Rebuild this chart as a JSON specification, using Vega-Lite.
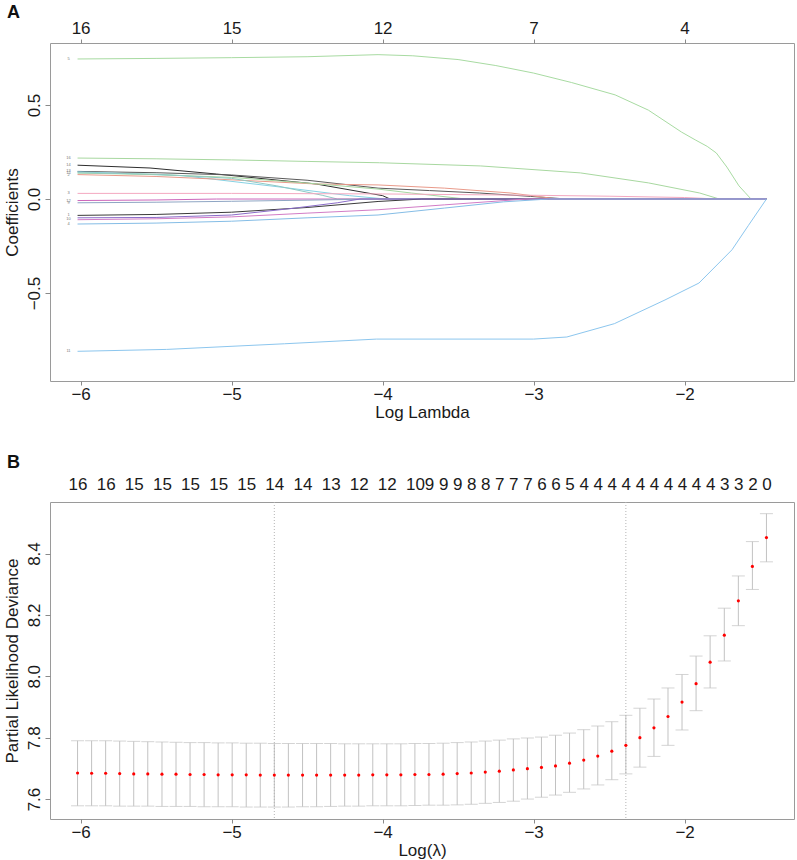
{
  "$schema": "https://vega.github.io/schema/vega-lite/v6.json",
  "background": "white",
  "padding": {"left": 2, "top": 3, "right": 0, "bottom": 0},
  "spacing": 32,
  "config": {
    "font": "Liberation Sans",
    "view": {"stroke": "#9a9a9a", "strokeWidth": 1},
    "axis": {"grid": false, "domain": false, "tickColor": "#8a8a8a", "labelColor": "#1a1a1a", "titleColor": "#1a1a1a", "labelFont": "Liberation Sans", "titleFont": "Liberation Sans", "labelFontSize": 17, "titleFontSize": 17, "titleFontWeight": "normal"},
    "axisY": {"labelAngle": -90, "labelAlign": "center", "labelBaseline": "bottom", "tickSize": 5, "labelPadding": 2, "titlePadding": 4},
    "title": {"font": "Liberation Sans", "fontSize": 18, "fontWeight": "bold", "anchor": "start", "frame": "bounds", "offset": -3, "dx": 4, "color": "#111"}
  },
  "datasets": {
    "paths": [
      {"v":"g1","x":-6.02,"c":0.745},{"v":"g1","x":-5.5,"c":0.748},{"v":"g1","x":-5.0,"c":0.752},{"v":"g1","x":-4.5,"c":0.757},{"v":"g1","x":-4.03,"c":0.768},{"v":"g1","x":-3.8,"c":0.762},{"v":"g1","x":-3.5,"c":0.742},{"v":"g1","x":-3.25,"c":0.71},{"v":"g1","x":-3.0,"c":0.67},{"v":"g1","x":-2.75,"c":0.62},{"v":"g1","x":-2.46,"c":0.554},{"v":"g1","x":-2.24,"c":0.473},{"v":"g1","x":-2.02,"c":0.356},{"v":"g1","x":-1.93,"c":0.315},{"v":"g1","x":-1.85,"c":0.28},{"v":"g1","x":-1.79,"c":0.245},{"v":"g1","x":-1.72,"c":0.17},{"v":"g1","x":-1.64,"c":0.07},{"v":"g1","x":-1.6,"c":0.035},{"v":"g1","x":-1.56,"c":0.0},{"v":"g1","x":-1.458,"c":0.0},
      {"v":"g2","x":-6.02,"c":0.218},{"v":"g2","x":-5.5,"c":0.214},{"v":"g2","x":-5.0,"c":0.208},{"v":"g2","x":-4.5,"c":0.2},{"v":"g2","x":-4.02,"c":0.193},{"v":"g2","x":-3.35,"c":0.176},{"v":"g2","x":-2.69,"c":0.139},{"v":"g2","x":-2.24,"c":0.086},{"v":"g2","x":-1.9,"c":0.032},{"v":"g2","x":-1.77,"c":0.0},{"v":"g2","x":-1.458,"c":0.0},
      {"v":"black1","x":-6.02,"c":0.18},{"v":"black1","x":-5.54,"c":0.165},{"v":"black1","x":-5.1,"c":0.133},{"v":"black1","x":-4.44,"c":0.08},{"v":"black1","x":-4.0,"c":0.018},{"v":"black1","x":-3.95,"c":0.0},{"v":"black1","x":-1.458,"c":0.0},
      {"v":"dgray","x":-6.02,"c":0.147},{"v":"dgray","x":-5.5,"c":0.14},{"v":"dgray","x":-5.0,"c":0.128},{"v":"dgray","x":-4.5,"c":0.1},{"v":"dgray","x":-4.03,"c":0.058},{"v":"dgray","x":-3.69,"c":0.045},{"v":"dgray","x":-3.36,"c":0.032},{"v":"dgray","x":-3.02,"c":0.014},{"v":"dgray","x":-2.78,"c":0.0},{"v":"dgray","x":-1.458,"c":0.0},
      {"v":"cyan","x":-6.02,"c":0.145},{"v":"cyan","x":-5.32,"c":0.124},{"v":"cyan","x":-4.66,"c":0.062},{"v":"cyan","x":-4.22,"c":0.018},{"v":"cyan","x":-3.98,"c":0.0},{"v":"cyan","x":-1.458,"c":0.0},
      {"v":"red","x":-6.02,"c":0.13},{"v":"red","x":-5.5,"c":0.12},{"v":"red","x":-5.1,"c":0.106},{"v":"red","x":-4.44,"c":0.08},{"v":"red","x":-4.03,"c":0.075},{"v":"red","x":-3.59,"c":0.058},{"v":"red","x":-3.15,"c":0.032},{"v":"red","x":-2.84,"c":0.0},{"v":"red","x":-1.458,"c":0.0},
      {"v":"green3","x":-6.02,"c":0.138},{"v":"green3","x":-5.5,"c":0.13},{"v":"green3","x":-5.0,"c":0.115},{"v":"green3","x":-4.5,"c":0.085},{"v":"green3","x":-4.03,"c":0.053},{"v":"green3","x":-3.81,"c":0.032},{"v":"green3","x":-3.45,"c":0.0},{"v":"green3","x":-1.458,"c":0.0},
      {"v":"teal2","x":-6.02,"c":0.14},{"v":"teal2","x":-5.5,"c":0.132},{"v":"teal2","x":-5.0,"c":0.11},{"v":"teal2","x":-4.7,"c":0.07},{"v":"teal2","x":-4.4,"c":0.02},{"v":"teal2","x":-4.3,"c":0.0},{"v":"teal2","x":-1.458,"c":0.0},
      {"v":"pink","x":-6.02,"c":0.03},{"v":"pink","x":-5.0,"c":0.03},{"v":"pink","x":-4.0,"c":0.027},{"v":"pink","x":-3.0,"c":0.02},{"v":"pink","x":-2.5,"c":0.015},{"v":"pink","x":-2.0,"c":0.008},{"v":"pink","x":-1.78,"c":0.0},{"v":"pink","x":-1.458,"c":0.0},
      {"v":"magsmall","x":-6.02,"c":-0.008},{"v":"magsmall","x":-5.5,"c":-0.005},{"v":"magsmall","x":-5.1,"c":0.0},{"v":"magsmall","x":-1.458,"c":0.0},
      {"v":"greyblue","x":-6.02,"c":-0.02},{"v":"greyblue","x":-5.5,"c":-0.017},{"v":"greyblue","x":-5.0,"c":-0.012},{"v":"greyblue","x":-4.5,"c":-0.006},{"v":"greyblue","x":-4.05,"c":0.0},{"v":"greyblue","x":-1.458,"c":0.0},
      {"v":"dark","x":-6.02,"c":-0.087},{"v":"dark","x":-5.5,"c":-0.082},{"v":"dark","x":-5.0,"c":-0.07},{"v":"dark","x":-4.5,"c":-0.045},{"v":"dark","x":-4.03,"c":-0.013},{"v":"dark","x":-3.74,"c":0.0},{"v":"dark","x":-1.458,"c":0.0},
      {"v":"purple","x":-6.02,"c":-0.1},{"v":"purple","x":-5.5,"c":-0.098},{"v":"purple","x":-5.0,"c":-0.085},{"v":"purple","x":-4.6,"c":-0.05},{"v":"purple","x":-4.3,"c":-0.02},{"v":"purple","x":-4.15,"c":0.0},{"v":"purple","x":-1.458,"c":0.0},
      {"v":"mag2","x":-6.02,"c":-0.11},{"v":"mag2","x":-5.5,"c":-0.105},{"v":"mag2","x":-5.0,"c":-0.095},{"v":"mag2","x":-4.5,"c":-0.075},{"v":"mag2","x":-4.03,"c":-0.057},{"v":"mag2","x":-3.59,"c":-0.031},{"v":"mag2","x":-3.05,"c":0.0},{"v":"mag2","x":-1.458,"c":0.0},
      {"v":"lightblue","x":-6.02,"c":-0.133},{"v":"lightblue","x":-5.5,"c":-0.128},{"v":"lightblue","x":-5.0,"c":-0.118},{"v":"lightblue","x":-4.5,"c":-0.1},{"v":"lightblue","x":-4.03,"c":-0.085},{"v":"lightblue","x":-3.59,"c":-0.048},{"v":"lightblue","x":-3.2,"c":-0.015},{"v":"lightblue","x":-2.9,"c":0.0},{"v":"lightblue","x":-1.458,"c":0.0},
      {"v":"bluebot","x":-6.02,"c":-0.81},{"v":"bluebot","x":-5.43,"c":-0.8},{"v":"bluebot","x":-4.65,"c":-0.77},{"v":"bluebot","x":-4.04,"c":-0.745},{"v":"bluebot","x":-3.0,"c":-0.745},{"v":"bluebot","x":-2.78,"c":-0.734},{"v":"bluebot","x":-2.465,"c":-0.663},{"v":"bluebot","x":-2.13,"c":-0.537},{"v":"bluebot","x":-1.905,"c":-0.447},{"v":"bluebot","x":-1.686,"c":-0.27},{"v":"bluebot","x":-1.577,"c":-0.14},{"v":"bluebot","x":-1.458,"c":0.0}
    ],
    "labs": [
      {"x":-6.08,"c":0.745,"t":"5"},{"x":-6.08,"c":0.218,"t":"16"},{"x":-6.08,"c":0.18,"t":"14"},{"x":-6.08,"c":0.147,"t":"13"},{"x":-6.08,"c":0.14,"t":"15"},{"x":-6.08,"c":0.13,"t":"2"},{"x":-6.08,"c":0.03,"t":"3"},{"x":-6.08,"c":-0.008,"t":"12"},{"x":-6.08,"c":-0.02,"t":"9"},{"x":-6.08,"c":-0.087,"t":"1"},{"x":-6.08,"c":-0.105,"t":"10"},{"x":-6.08,"c":-0.133,"t":"4"},{"x":-6.08,"c":-0.81,"t":"11"}
    ],
    "cv": [
      {"x":-6.020,"m":7.685,"lo":7.578,"hi":7.790},{"x":-5.927,"m":7.684,"lo":7.578,"hi":7.790},{"x":-5.834,"m":7.684,"lo":7.578,"hi":7.790},{"x":-5.741,"m":7.683,"lo":7.577,"hi":7.789},{"x":-5.648,"m":7.682,"lo":7.577,"hi":7.788},{"x":-5.555,"m":7.682,"lo":7.577,"hi":7.787},{"x":-5.461,"m":7.681,"lo":7.576,"hi":7.786},{"x":-5.368,"m":7.681,"lo":7.576,"hi":7.785},{"x":-5.275,"m":7.680,"lo":7.576,"hi":7.784},{"x":-5.182,"m":7.680,"lo":7.575,"hi":7.784},
      {"x":-5.089,"m":7.679,"lo":7.575,"hi":7.783},{"x":-4.996,"m":7.679,"lo":7.575,"hi":7.783},{"x":-4.903,"m":7.679,"lo":7.574,"hi":7.782},{"x":-4.810,"m":7.678,"lo":7.574,"hi":7.782},{"x":-4.717,"m":7.678,"lo":7.574,"hi":7.781},{"x":-4.624,"m":7.678,"lo":7.574,"hi":7.781},{"x":-4.530,"m":7.678,"lo":7.575,"hi":7.781},{"x":-4.437,"m":7.678,"lo":7.575,"hi":7.781},{"x":-4.344,"m":7.678,"lo":7.576,"hi":7.781},{"x":-4.251,"m":7.678,"lo":7.577,"hi":7.780},
      {"x":-4.158,"m":7.678,"lo":7.577,"hi":7.780},{"x":-4.065,"m":7.679,"lo":7.578,"hi":7.780},{"x":-3.972,"m":7.679,"lo":7.578,"hi":7.780},{"x":-3.879,"m":7.679,"lo":7.578,"hi":7.780},{"x":-3.786,"m":7.680,"lo":7.579,"hi":7.781},{"x":-3.693,"m":7.680,"lo":7.580,"hi":7.781},{"x":-3.599,"m":7.681,"lo":7.580,"hi":7.782},{"x":-3.506,"m":7.683,"lo":7.581,"hi":7.784},{"x":-3.413,"m":7.685,"lo":7.583,"hi":7.786},{"x":-3.320,"m":7.688,"lo":7.586,"hi":7.789},
      {"x":-3.227,"m":7.691,"lo":7.589,"hi":7.792},{"x":-3.134,"m":7.695,"lo":7.593,"hi":7.796},{"x":-3.041,"m":7.699,"lo":7.600,"hi":7.799},{"x":-2.948,"m":7.703,"lo":7.606,"hi":7.802},{"x":-2.855,"m":7.708,"lo":7.613,"hi":7.808},{"x":-2.762,"m":7.717,"lo":7.622,"hi":7.815},{"x":-2.668,"m":7.727,"lo":7.633,"hi":7.826},{"x":-2.575,"m":7.740,"lo":7.646,"hi":7.838},{"x":-2.482,"m":7.756,"lo":7.663,"hi":7.852},{"x":-2.389,"m":7.775,"lo":7.682,"hi":7.873},
      {"x":-2.296,"m":7.800,"lo":7.704,"hi":7.896},{"x":-2.203,"m":7.832,"lo":7.739,"hi":7.926},{"x":-2.110,"m":7.869,"lo":7.775,"hi":7.962},{"x":-2.017,"m":7.916,"lo":7.825,"hi":8.006},{"x":-1.924,"m":7.976,"lo":7.888,"hi":8.066},{"x":-1.831,"m":8.046,"lo":7.962,"hi":8.132},{"x":-1.737,"m":8.134,"lo":8.050,"hi":8.222},{"x":-1.644,"m":8.246,"lo":8.165,"hi":8.327},{"x":-1.551,"m":8.358,"lo":8.283,"hi":8.439},{"x":-1.458,"m":8.452,"lo":8.373,"hi":8.530}
    ],
    "vlines": [{"x": -4.717}, {"x": -2.389}]
  },
  "vconcat": [
    {
      "width": 744,
      "height": 338,
      "title": {"text": "A"},
      "layer": [
        {
          "data": {"name": "paths"},
          "mark": {"type": "line", "strokeWidth": 1},
          "encoding": {
            "x": {"field": "x", "type": "quantitative", "scale": {"domain": [-6.2025, -1.2755], "nice": false, "zero": false}, "axis": {"orient": "bottom", "values": [-6, -5, -4, -3, -2], "format": "d", "title": "Log Lambda", "tickSize": 4, "labelPadding": 1, "titlePadding": 2}},
            "y": {"field": "c", "type": "quantitative", "scale": {"domain": [-0.968, 0.83], "nice": false, "zero": false}, "axis": {"values": [-0.5, 0, 0.5], "format": ".1f", "title": "Coefficients"}},
            "color": {"field": "v", "type": "nominal", "legend": null, "scale": {
              "domain": ["g1","g2","black1","dgray","cyan","red","green3","teal2","pink","magsmall","greyblue","dark","purple","mag2","lightblue","bluebot"],
              "range": ["#a8dba2","#a8d8a0","#2e2e2e","#5a5a5a","#86d2e4","#e99a8a","#a6d6a0","#8fc9c4","#f4a8c0","#cc66bb","#8fa6c4","#3a3a3a","#8a6cc8","#d27cc6","#85bde6","#8cc6ee"]}}
          }
        },
        {
          "data": {"name": "labs"},
          "mark": {"type": "text", "fontSize": 4, "color": "#777", "align": "center", "baseline": "middle"},
          "encoding": {
            "x": {"field": "x", "type": "quantitative", "scale": {"domain": [-6.2025, -1.2755], "nice": false, "zero": false}, "axis": {"orient": "top", "values": [-6, -5, -4, -3, -2], "labelExpr": "datum.value == -6 ? '16' : datum.value == -5 ? '15' : datum.value == -4 ? '12' : datum.value == -3 ? '7' : '4'", "title": null, "tickSize": 4, "labelPadding": 2}},
            "y": {"field": "c", "type": "quantitative", "scale": {"domain": [-0.968, 0.83], "nice": false, "zero": false}, "axis": {"values": [-0.5, 0, 0.5], "format": ".1f", "title": "Coefficients"}},
            "text": {"field": "t"}
          }
        }
      ],
      "resolve": {"axis": {"x": "independent"}}
    },
    {
      "width": 744,
      "height": 317,
      "title": {"text": "B", "offset": 3},
      "layer": [
        {
          "data": {"name": "cv"},
          "mark": {"type": "rule", "color": "#c2c2c2", "strokeWidth": 1},
          "encoding": {
            "x": {"field": "x", "type": "quantitative", "scale": {"domain": [-6.2025, -1.2755], "nice": false, "zero": false}, "axis": {"orient": "bottom", "values": [-6, -5, -4, -3, -2], "format": "d", "title": "Log(λ)", "tickSize": 4, "labelPadding": 1, "titlePadding": 2}},
            "y": {"field": "lo", "type": "quantitative", "scale": {"domain": [7.535, 8.568], "nice": false, "zero": false}, "axis": {"values": [7.6, 7.8, 8.0, 8.2, 8.4], "format": ".1f", "title": "Partial Likelihood Deviance"}},
            "y2": {"field": "hi"}
          }
        },
        {
          "data": {"name": "cv"},
          "mark": {"type": "tick", "orient": "horizontal", "size": 13, "thickness": 1, "color": "#c2c2c2"},
          "encoding": {
            "x": {"field": "x", "type": "quantitative", "axis": null},
            "y": {"field": "lo", "type": "quantitative", "axis": {"values": [7.6, 7.8, 8.0, 8.2, 8.4], "format": ".1f", "title": "Partial Likelihood Deviance"}}
          }
        },
        {
          "data": {"name": "cv"},
          "mark": {"type": "tick", "orient": "horizontal", "size": 13, "thickness": 1, "color": "#c2c2c2"},
          "encoding": {
            "x": {"field": "x", "type": "quantitative", "axis": null},
            "y": {"field": "hi", "type": "quantitative", "axis": {"values": [7.6, 7.8, 8.0, 8.2, 8.4], "format": ".1f", "title": "Partial Likelihood Deviance"}}
          }
        },
        {
          "data": {"name": "vlines"},
          "mark": {"type": "rule", "color": "#b5b5b5", "strokeWidth": 1, "strokeDash": [1, 2]},
          "encoding": {
            "x": {"field": "x", "type": "quantitative", "axis": null}
          }
        },
        {
          "data": {"name": "cv"},
          "mark": {"type": "point", "filled": true, "size": 10, "color": "#ff0000", "opacity": 1},
          "encoding": {
            "x": {"field": "x", "type": "quantitative", "axis": {"orient": "top", "title": null, "ticks": false, "labelPadding": 9, "labelOverlap": false, "labelFlush": false,
              "values": [-6.020,-5.834,-5.648,-5.461,-5.275,-5.089,-4.903,-4.717,-4.530,-4.344,-4.158,-3.972,-3.786,-3.693,-3.599,-3.506,-3.413,-3.320,-3.227,-3.134,-3.041,-2.948,-2.855,-2.762,-2.668,-2.575,-2.482,-2.389,-2.296,-2.203,-2.110,-2.017,-1.924,-1.831,-1.737,-1.644,-1.551,-1.458],
              "labelExpr": "split('16,,16,,15,,15,,15,,15,,15,,14,,14,,13,,12,,12,,10,9,9,9,8,8,7,7,7,6,6,5,4,4,4,4,4,4,4,4,4,4,3,3,2,0', ',')[round((datum.value + 6.02) / 0.0931)]"}},
            "y": {"field": "m", "type": "quantitative", "axis": {"values": [7.6, 7.8, 8.0, 8.2, 8.4], "format": ".1f", "title": "Partial Likelihood Deviance"}}
          }
        }
      ],
      "resolve": {"axis": {"x": "independent"}}
    }
  ]
}
